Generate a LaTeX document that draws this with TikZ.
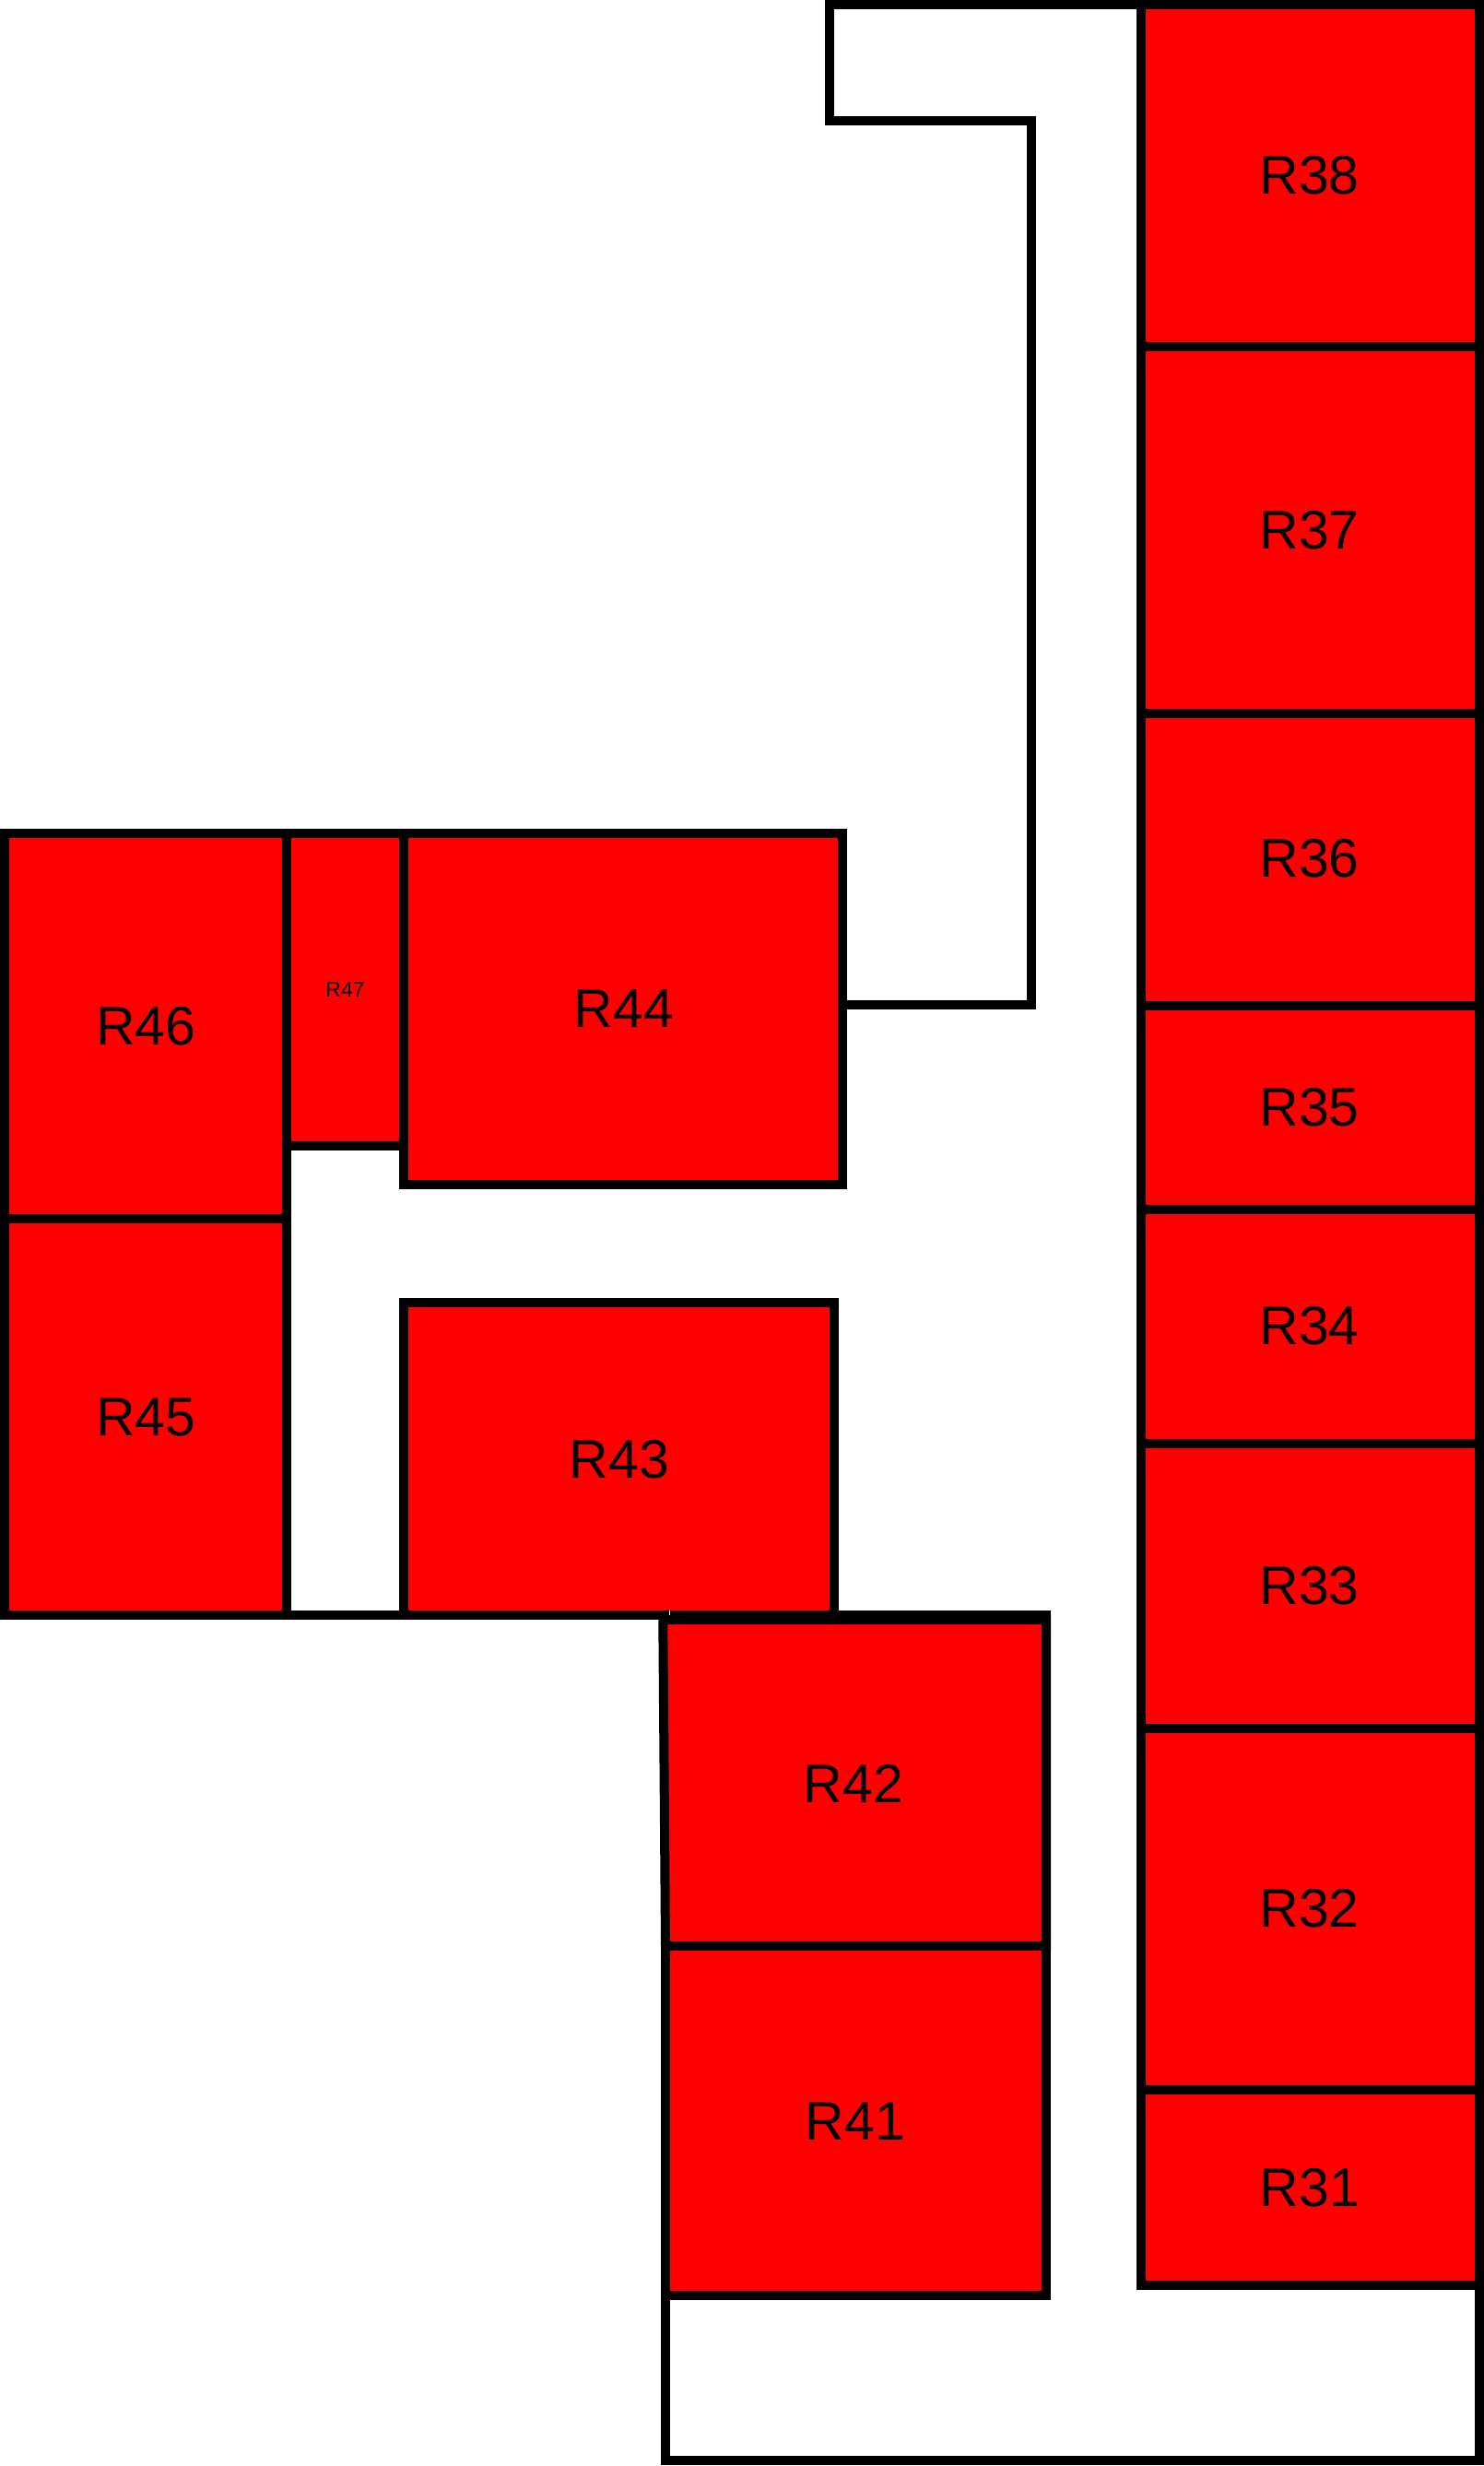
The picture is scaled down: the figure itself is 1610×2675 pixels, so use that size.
\documentclass[tikz,border=0pt]{standalone}
\usepackage{fontspec}
\setmainfont{Liberation Sans}
\tikzset{
  wall/.style={draw=black,line width=5pt},
  room/.style={wall,fill=red},
  every node/.style={font=\fontsize{29.5}{36}\selectfont},
  smalllabel/.style={font=\fontsize{11.5}{14}\selectfont}
}

\begin{document}
\begin{tikzpicture}[x=0.5pt,y=-0.5pt]
   \useasboundingbox (0,0) rectangle (1610,2675);

   % corridor
   \coordinate (stubstart) at (914,1090);
   \coordinate (stubend) at (722,2111);
   \draw[wall] (stubstart) -- (1119,1090) -- (1119,131.3) -- (899.5,131.3) -- (899.5,5) -- (1605,5) -- (1605,2669.4) -- (722,2669.4) -- (stubend);

   % right column
   \draw[room] (1238.3,5) rectangle (1605,376.3);
   \draw[room] (1238.3,376.3) rectangle (1605,774);
   \draw[room] (1238.3,774) rectangle (1605,1091);
   \draw[room] (1238.3,1091) rectangle (1605,1312);
   \draw[room] (1238.3,1312) rectangle (1605,1566.3);
   \draw[room] (1238.3,1566.3) rectangle (1605,1875);
   \draw[room] (1238.3,1875) rectangle (1605,2267.4);
   \draw[room] (1238.3,2267.4) rectangle (1605,2478.8);

   % left block
   \draw[room] (4.8,904) rectangle (311,1322);
   \draw[room] (4.8,1322) rectangle (311,1752);
   \draw[room] (311,904) rectangle (438,1243);
   \draw[room] (438,904) rectangle (914,1284.5);
   \draw[room] (438,1413) rectangle (904.5,1752);
   \draw[wall] (311,1752) -- (438,1752);

   % middle block
   \draw[room] (719.3,1757) -- (1135,1757) -- (1135,2111.4) -- (722,2111.4) -- cycle;
   \draw[room] (722,2111.4) rectangle (1135,2490.4);
   \draw[wall] (725,1752) -- (1140,1752);
   \fill[white] (725.5,1747) rectangle (727,1752);

   \draw (1420.5,190.3) node (r38) {R38};
   \draw (1420.5,575) node (r37) {R37};
   \draw (1420.5,931) node (r36) {R36};
   \draw (1420.5,1201) node (r35) {R35};
   \draw (1420.5,1438) node (r34) {R34};
   \draw (1420.5,1720) node (r33) {R33};
   \draw (1420.5,2070) node (r32) {R32};
   \draw (1421,2373.4) node (r31) {R31};
   \draw (928,2300.7) node (r41) {R41};
   \draw (926,1934.6) node (r42) {R42};
   \draw (672,1583) node (r43) {R43};
   \draw (676.8,1094.4) node (r44) {R44};
   \draw (158.5,1537) node (r45) {R45};
   \draw (158.5,1113.6) node (r46) {R46};
   \draw (374.5,1073.6) node[smalllabel] (r47) {R47};
\end{tikzpicture}
\end{document}
